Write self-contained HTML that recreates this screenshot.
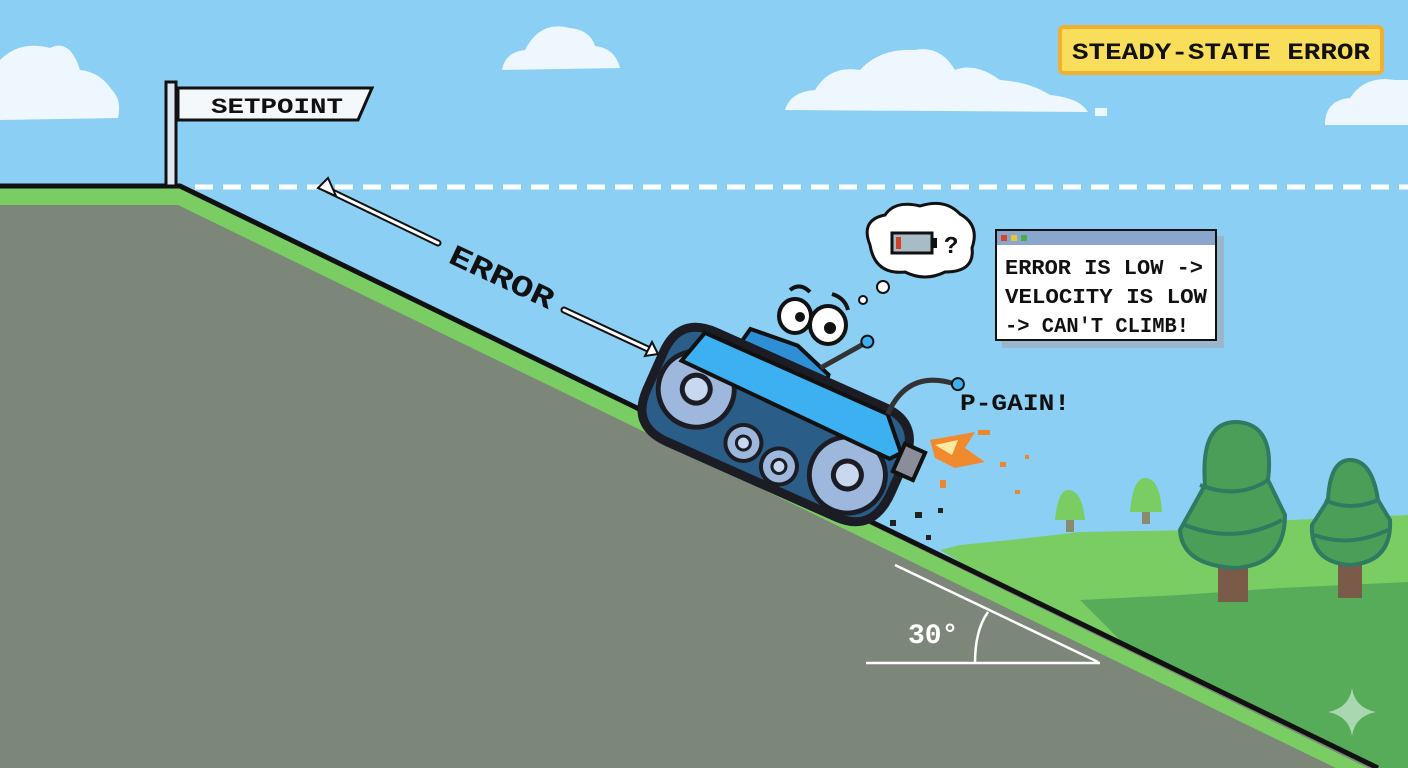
<!DOCTYPE html>
<html><head><meta charset="utf-8"><style>
html,body{margin:0;padding:0;width:1408px;height:768px;overflow:hidden;background:#8bd0f4}
svg{display:block}
text{font-family:"Liberation Mono","DejaVu Sans Mono",monospace;font-weight:bold}
</style></head><body>
<svg width="1408" height="768" viewBox="0 0 1408 768" xmlns="http://www.w3.org/2000/svg">
<rect width="1408" height="768" fill="#8bd0f4"/>
<g fill="#eef7fd">
<path d="M0 112 L0 60 Q20 40 50 48 Q70 38 80 70 Q100 72 112 90 Q122 100 118 118 L0 120Z"/>
<path d="M502 70 Q505 52 525 50 Q540 20 570 28 Q590 30 595 46 Q615 48 620 68 Z"/>
<path d="M785 110 Q790 92 815 90 Q830 65 860 70 Q880 48 915 50 Q940 45 955 70 Q975 62 1000 80 Q1030 82 1050 95 Q1080 98 1088 112 Z"/>
<rect x="1095" y="108" width="12" height="8"/>
<path d="M1325 125 Q1325 100 1350 98 Q1365 75 1395 80 L1408 80 L1408 125Z"/>
</g>
<line x1="195" y1="187" x2="1408" y2="187" stroke="#fff" stroke-width="5" stroke-dasharray="18,10"/>
<path d="M940 550 L960 545 L1010 540 L1080 532 L1200 530 L1290 520 L1408 515 L1408 768 L1300 768Z" fill="#79cd62"/>
<path d="M1080 600 L1180 595 L1280 588 L1408 582 L1408 768 L1300 768 L1130 650Z" fill="#57ac5a"/>
<g fill="#79cd62"><path d="M1068 490 Q1082 490 1085 520 L1055 520 Q1058 490 1068 490Z"/><path d="M1145 478 Q1160 478 1162 512 L1130 512 Q1133 478 1145 478Z"/></g>
<rect x="1066" y="520" width="8" height="12" fill="#8a8a70"/><rect x="1142" y="512" width="8" height="12" fill="#8a8a70"/>
<g>
<rect x="1218" y="560" width="30" height="42" fill="#7a5a48"/>
<path d="M1205 485 Q1200 420 1238 422 Q1275 425 1268 480 L1285 515 Q1285 565 1235 568 Q1182 565 1180 530 Z" fill="#4a9e58" stroke="#2f7a60" stroke-width="4"/>
<path d="M1200 485 Q1238 500 1268 480 M1185 525 Q1235 545 1282 520" stroke="#2f7a60" stroke-width="4" fill="none"/>
<rect x="1338" y="560" width="24" height="38" fill="#7a5a48"/>
<path d="M1328 500 Q1330 460 1350 460 Q1372 460 1378 500 L1390 520 Q1392 562 1350 565 Q1310 562 1312 525Z" fill="#4a9e58" stroke="#2f7a60" stroke-width="4"/>
<path d="M1325 500 Q1350 512 1378 500 M1314 535 Q1350 548 1388 530" stroke="#2f7a60" stroke-width="4" fill="none"/>
</g>
<path d="M0 186 L180 186 L1372 768 L0 768Z" fill="#7c877a"/>
<path d="M0 188 L182 188 L1372 770 L1340 770 L178 205 L0 205Z" fill="#79cd62"/>
<path d="M0 186 L180 186 L1378 768" stroke="#111" stroke-width="5" fill="none"/>
<rect x="166" y="82" width="10" height="104" fill="#dde8f0" stroke="#111" stroke-width="3"/>
<path d="M178 88 L372 88 L358 120 L178 120Z" fill="#f5f8fb" stroke="#111" stroke-width="3"/>
<text x="211" y="113" font-size="22" fill="#111" textLength="132" lengthAdjust="spacingAndGlyphs">SETPOINT</text>
<g stroke="#111" stroke-width="7" stroke-linecap="round"><line x1="328" y1="190" x2="438" y2="243"/><line x1="564" y1="310" x2="650" y2="350"/></g>
<g stroke="#fff" stroke-width="3" stroke-linecap="round"><line x1="328" y1="190" x2="438" y2="243"/><line x1="564" y1="310" x2="650" y2="350"/></g>
<path d="M318 188 L328 178 L336 196Z" fill="#fff" stroke="#111" stroke-width="2"/>
<path d="M658 354 L645 356 L652 342Z" fill="#fff" stroke="#111" stroke-width="2"/>
<text x="0" y="0" font-size="30" font-weight="normal" fill="#111" textLength="112" lengthAdjust="spacingAndGlyphs" transform="translate(447 262) rotate(25)">ERROR</text>
<g transform="translate(780 410) rotate(24)">
<path d="M-60 -62 L-10 -66 L30 -52 L36 -10 L-70 -12Z" fill="#2f8fd6" stroke="#111" stroke-width="4"/>
<path d="M-115 -32 L90 -30 L110 0 L110 30 L-115 30Z" fill="#35a0e6" stroke="#111" stroke-width="4"/>
<path d="M-130 -5 Q-130 -45 -90 -45 L95 -45 Q135 -45 135 0 L135 30 Q135 75 95 75 L-90 75 Q-130 75 -130 35Z" fill="#2a5d88" stroke="#1c1c24" stroke-width="9"/>
<circle cx="-85" cy="15" r="38" fill="#9db8dc" stroke="#1c1c24" stroke-width="5"/><circle cx="-85" cy="15" r="14" fill="#c8d8ee" stroke="#1c1c24" stroke-width="5"/>
<circle cx="88" cy="32" r="38" fill="#9db8dc" stroke="#1c1c24" stroke-width="5"/><circle cx="88" cy="32" r="14" fill="#c8d8ee" stroke="#1c1c24" stroke-width="5"/>
<circle cx="-20" cy="45" r="18" fill="#9db8dc" stroke="#1c1c24" stroke-width="4"/><circle cx="-20" cy="45" r="7" fill="#c8d8ee" stroke="#1c1c24" stroke-width="3"/>
<circle cx="22" cy="52" r="18" fill="#9db8dc" stroke="#1c1c24" stroke-width="4"/><circle cx="22" cy="52" r="7" fill="#c8d8ee" stroke="#1c1c24" stroke-width="3"/>
<path d="M-100 -40 L100 -40 L128 -10 L120 0 L-110 -5Z" fill="#3cb0f0" stroke="#111" stroke-width="4"/>
<rect x="128" y="-20" width="22" height="30" fill="#8a8e98" stroke="#111" stroke-width="4"/>
<path d="M20 -55 L50 -95" stroke="#333" stroke-width="5"/><circle cx="52" cy="-98" r="6" fill="#3cb0f0" stroke="#111" stroke-width="2"/>
<path d="M100 -40 Q100 -90 150 -95" stroke="#333" stroke-width="5" fill="none"/><circle cx="152" cy="-96" r="6" fill="#3cb0f0" stroke="#111" stroke-width="2"/>
</g>
<g stroke="#111" stroke-width="4" fill="#fff"><ellipse cx="795" cy="316" rx="16" ry="17"/><ellipse cx="828" cy="325" rx="18" ry="19"/></g>
<circle cx="800" cy="317" r="5" fill="#111"/><circle cx="830" cy="328" r="6" fill="#111"/>
<path d="M790 290 Q800 282 810 292 M832 294 Q845 298 848 310" stroke="#111" stroke-width="4" fill="none"/>
<path d="M930 440 L975 432 L965 448 L985 462 L955 468 L935 458Z" fill="#f08a2c"/>
<path d="M935 445 L958 440 L952 455 Z" fill="#ffe9a0"/>
<g fill="#e9882e"><rect x="978" y="430" width="12" height="5"/><rect x="1000" y="462" width="6" height="5"/><rect x="940" y="480" width="6" height="8"/><rect x="1015" y="490" width="5" height="4"/><rect x="1025" y="455" width="4" height="4"/></g>
<g fill="#222"><rect x="915" y="512" width="7" height="6"/><rect x="938" y="508" width="5" height="5"/><rect x="890" y="520" width="6" height="6"/><rect x="926" y="535" width="5" height="5"/></g>
<path d="M870 245 Q860 220 885 215 Q895 200 920 206 Q945 198 960 214 Q980 225 972 248 Q975 272 945 272 Q925 282 905 272 Q875 275 870 245Z" fill="#fff" stroke="#111" stroke-width="3"/>
<circle cx="883" cy="287" r="6" fill="#fff" stroke="#111" stroke-width="2"/><circle cx="863" cy="300" r="4" fill="#fff" stroke="#111" stroke-width="2"/>
<rect x="892" y="233" width="40" height="20" fill="#a8bcc6" stroke="#111" stroke-width="3"/><rect x="932" y="238" width="5" height="10" fill="#111"/><rect x="896" y="237" width="5" height="12" fill="#d2402c"/>
<text x="944" y="253" font-size="24" font-weight="normal" fill="#111">?</text>
<rect x="1002" y="236" width="222" height="112" fill="#9ab6cc"/>
<rect x="996" y="230" width="220" height="110" fill="#fff" stroke="#111" stroke-width="2"/>
<rect x="997" y="231" width="218" height="14" fill="#8aa6cc"/>
<rect x="1001" y="235" width="6" height="6" fill="#d9442c"/><rect x="1011" y="235" width="6" height="6" fill="#e6c830"/><rect x="1021" y="235" width="6" height="6" fill="#43b04a"/>
<g font-size="21" fill="#111" font-weight="normal"><text x="1005" y="274" textLength="198" lengthAdjust="spacingAndGlyphs">ERROR IS LOW -&gt;</text><text x="1005" y="303" textLength="202" lengthAdjust="spacingAndGlyphs">VELOCITY IS LOW</text><text x="1005" y="332" textLength="184" lengthAdjust="spacingAndGlyphs">-&gt; CAN'T CLIMB!</text></g>
<text x="960" y="410" font-size="23" font-weight="normal" fill="#111" textLength="110" lengthAdjust="spacingAndGlyphs">P-GAIN!</text>
<rect x="1060" y="27" width="322" height="46" rx="4" fill="#f8de5a" stroke="#f0b030" stroke-width="4"/>
<text x="1072" y="59" font-size="23" font-weight="normal" fill="#111" textLength="298" lengthAdjust="spacingAndGlyphs">STEADY-STATE ERROR</text>
<g stroke="#fff" stroke-width="2.5" fill="none"><line x1="866" y1="663" x2="1100" y2="663"/><line x1="895" y1="565" x2="1098" y2="662"/><path d="M975 663 Q975 630 988 612"/></g>
<text x="908" y="643" font-size="28" font-weight="normal" fill="#fff">30°</text>
<path d="M1352 688 Q1355 708 1376 712 Q1355 716 1352 736 Q1349 716 1328 712 Q1349 708 1352 688Z" fill="#a9d8b0"/>
</svg>
</body></html>
